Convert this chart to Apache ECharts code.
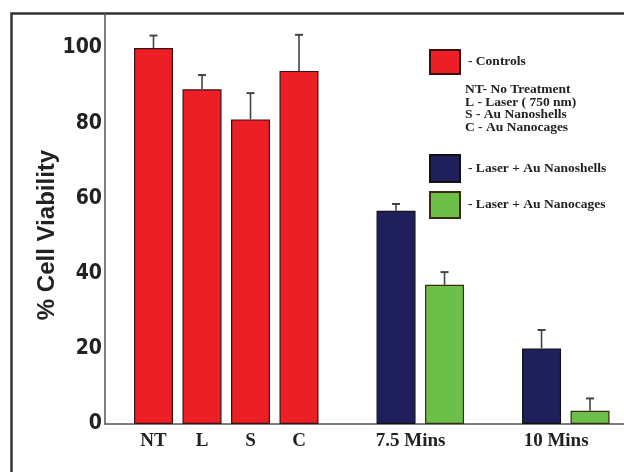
<!DOCTYPE html>
<html>
<head>
<meta charset="utf-8">
<script src="https://cdn.jsdelivr.net/npm/echarts@6/dist/echarts.min.js"></script>
<style>html,body{margin:0;padding:0;background:#fff}#c{width:624px;height:472px}</style>
</head>
<body>
<div id="c"></div>
<script>
// ---- data ----
const controlCategories = ['NT', 'L', 'S', 'C'];
const controlValues = [100, 89, 81, 93.9];
const controlErrors = [3.3, 3.8, 7.0, 9.6];

const timeGroups = ['7.5 Mins', '10 Mins'];
const nanoshellValues = [56.7, 20.1];
const nanoshellErrors = [1.8, 4.9];
const nanocageValues = [37.0, 3.5];
const nanocageErrors = [3.4, 3.3];

const yTicks = [0, 20, 40, 60, 80, 100];

const legendNotes = ['NT- No Treatment', 'L - Laser ( 750 nm)', 'S - Au Nanoshells', 'C - Au Nanocages'];

// ---- slot layout on the x scale (one slot per bar, one empty slot between groups) ----
const controlSlots = controlCategories.map((_, i) => i + 1);
const shellSlots = timeGroups.map((_, g) => 6 + 3 * g);
const cageSlots = timeGroups.map((_, g) => 7 + 3 * g);
const groupLabelSlots = timeGroups.map((_, g) => 6.3 + 3 * g);

const xLabelMap = {};
controlSlots.forEach((s, i) => xLabelMap[Math.round(s * 10)] = controlCategories[i]);
groupLabelSlots.forEach((s, i) => xLabelMap[Math.round(s * 10)] = timeGroups[i]);

const RED = '#ec1f26', NAVY = '#1f1f5c', GREEN = '#6cbf48';

const errData = [];
controlSlots.forEach((s, i) => errData.push([s, controlValues[i], controlValues[i] + controlErrors[i]]));
shellSlots.forEach((s, i) => errData.push([s, nanoshellValues[i], nanoshellValues[i] + nanoshellErrors[i]]));
cageSlots.forEach((s, i) => errData.push([s, nanocageValues[i], nanocageValues[i] + nanocageErrors[i]]));

const serif = "'Liberation Serif', 'Times New Roman', serif";
const narrow = "'Liberation Sans Narrow', 'DejaVu Sans Condensed', 'Liberation Sans', sans-serif";

const chart = echarts.init(document.getElementById('c'), null, {renderer: 'canvas'});

const legendBase = {
  orient: 'vertical', left: 429, padding: 0, itemWidth: 30,
  icon: 'rect', selectedMode: false,
  formatter: n => '- ' + n,
  textStyle: {fontFamily: serif, fontWeight: 'bold', fontSize: 13.5, color: '#222', padding: [0, 0, 0, 3]}
};

chart.setOption({
  animation: false,
  backgroundColor: '#fff',
  grid: {left: 105, right: 0, top: 13, bottom: 48},
  xAxis: {
    type: 'value', min: 0, max: 10.7, interval: 0.1,
    axisLine: {show: true, lineStyle: {color: '#555', width: 1.5}},
    axisTick: {show: false},
    splitLine: {show: false},
    axisLabel: {
      formatter: v => xLabelMap[Math.round(v * 10)] || '',
      fontFamily: serif, fontWeight: 'bold', fontSize: 19, color: '#222', margin: 8,
      showMinLabel: true, showMaxLabel: false
    }
  },
  yAxis: {
    type: 'value', min: 0, max: 109.3, interval: 20,
    axisLine: {show: true, lineStyle: {color: '#555', width: 1.5}},
    axisTick: {show: false},
    splitLine: {show: false},
    axisLabel: {
      formatter: v => yTicks.indexOf(v) >= 0 ? String(v) : '',
      fontFamily: narrow, fontWeight: 'bold', fontSize: 21, color: '#222', margin: 3
    }
  },
  legend: [
    Object.assign({}, legendBase, {data: ['Controls'], top: 49, itemHeight: 24}),
    Object.assign({}, legendBase, {data: ['Laser + Au Nanoshells'], top: 154, itemHeight: 27}),
    Object.assign({}, legendBase, {data: ['Laser + Au Nanocages'], top: 191, itemHeight: 26})
  ],
  series: [
    {
      name: 'Controls', type: 'bar', barWidth: 39, barGap: '-100%',
      itemStyle: {color: RED, borderColor: '#3a1010', borderWidth: 1.2},
      data: controlSlots.map((s, i) => [s, controlValues[i]])
    },
    {
      name: 'Laser + Au Nanoshells', type: 'bar', barWidth: 39, barGap: '-100%',
      itemStyle: {color: NAVY, borderColor: '#111', borderWidth: 1.2},
      data: shellSlots.map((s, i) => [s, nanoshellValues[i]])
    },
    {
      name: 'Laser + Au Nanocages', type: 'bar', barWidth: 39, barGap: '-100%',
      itemStyle: {color: GREEN, borderColor: '#3a2a10', borderWidth: 1.2},
      data: cageSlots.map((s, i) => [s, nanocageValues[i]])
    },
    {
      name: 'err', type: 'custom', z: 5,
      data: errData,
      renderItem: (params, api) => {
        const p0 = api.coord([api.value(0), api.value(1)]);
        const p1 = api.coord([api.value(0), api.value(2)]);
        const st = {stroke: '#444', lineWidth: 1.6};
        return {type: 'group', children: [
          {type: 'line', shape: {x1: p0[0], y1: p0[1], x2: p1[0], y2: p1[1]}, style: st},
          {type: 'line', shape: {x1: p1[0] - 4, y1: p1[1], x2: p1[0] + 4, y2: p1[1]}, style: {stroke: '#444', lineWidth: 2}}
        ]};
      }
    }
  ],
  graphic: [
    {type: 'rect', shape: {x: 11.5, y: 13.5, width: 800, height: 600}, style: {fill: 'none', stroke: '#333', lineWidth: 2.5}, silent: true},
    {type: 'text', x: 47, y: 235, rotation: Math.PI / 2,
     style: {text: '% Cell Viability', fontFamily: "'Liberation Sans', Arial, sans-serif", fontWeight: 'bold', fontSize: 24,
             fill: '#222', textAlign: 'center', textVerticalAlign: 'middle'}},
    {type: 'text', left: 465, top: 83,
     style: {text: legendNotes.join('\n'), fontFamily: serif, fontWeight: 'bold', fontSize: 13.5, lineHeight: 12.5, fill: '#222'}}
  ]
});
</script>
</body>
</html>
